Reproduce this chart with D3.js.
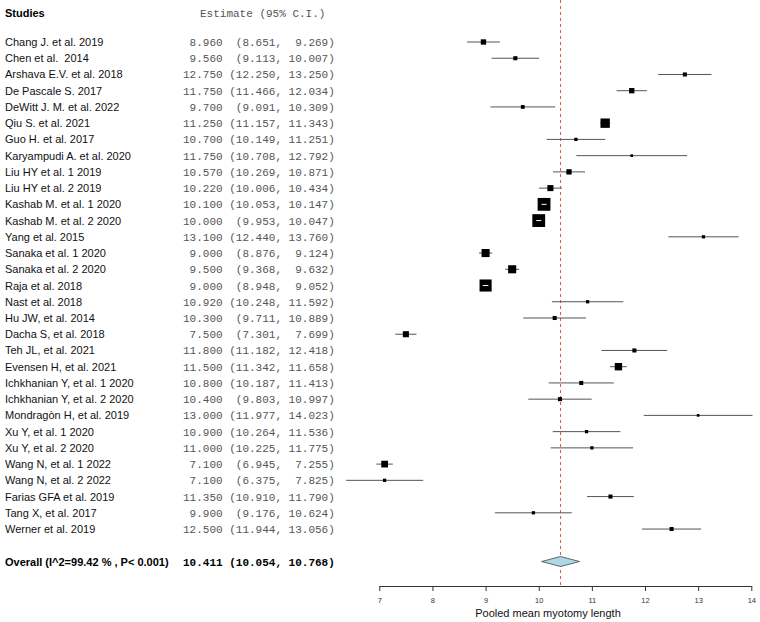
<!DOCTYPE html>
<html>
<head>
<meta charset="utf-8">
<script src="https://cdn.jsdelivr.net/npm/d3@7"></script>
<style>
  body { margin: 0; background: #fff; }
  text { white-space: pre; }
</style>
</head>
<body>
<script>
// data
let studies = [
  'Chang J. et al. 2019', 'Chen et al.  2014', 'Arshava E.V. et al. 2018', 'De Pascale S. 2017',
  'DeWitt J. M. et al. 2022', 'Qiu S. et al. 2021', 'Guo H. et al. 2017', 'Karyampudi A. et al. 2020',
  'Liu HY et al. 1 2019', 'Liu HY et al. 2 2019', 'Kashab M. et al. 1 2020', 'Kashab M. et al. 2 2020',
  'Yang et al. 2015', 'Sanaka et al. 1 2020', 'Sanaka et al. 2 2020', 'Raja et al. 2018',
  'Nast et al. 2018', 'Hu JW, et al. 2014', 'Dacha S, et al. 2018', 'Teh JL, et al. 2021',
  'Evensen H, et al. 2021', 'Ichkhanian Y, et al. 1 2020', 'Ichkhanian Y, et al. 2 2020',
  'Mondragòn H, et al. 2019', 'Xu Y, et al. 1 2020', 'Xu Y, et al. 2 2020', 'Wang N, et al. 1 2022',
  'Wang N, et al. 2 2022', 'Farias GFA et al. 2019', 'Tang X, et al. 2017', 'Werner et al. 2019'
];
let estimates = [8.960, 9.560, 12.750, 11.750, 9.700, 11.250, 10.700, 11.750, 10.570, 10.220, 10.100,
  10.000, 13.100, 9.000, 9.500, 9.000, 10.920, 10.300, 7.500, 11.800, 11.500, 10.800, 10.400, 13.000,
  10.900, 11.000, 7.100, 7.100, 11.350, 9.900, 12.500];
let lower = [8.651, 9.113, 12.250, 11.466, 9.091, 11.157, 10.149, 10.708, 10.269, 10.006, 10.053,
  9.953, 12.440, 8.876, 9.368, 8.948, 10.248, 9.711, 7.301, 11.182, 11.342, 10.187, 9.803, 11.977,
  10.264, 10.225, 6.945, 6.375, 10.910, 9.176, 11.944];
let upper = [9.269, 10.007, 13.250, 12.034, 10.309, 11.343, 11.251, 12.792, 10.871, 10.434, 10.147,
  10.047, 13.760, 9.124, 9.632, 9.052, 11.592, 10.889, 7.699, 12.418, 11.658, 11.413, 10.997, 14.023,
  11.536, 11.775, 7.255, 7.825, 11.790, 10.624, 13.056];
// relative weights (%)
let weights = [2.4, 1.4, 1.4, 2.4, 1.2, 7.4, 0.9, 0.6, 2.4, 3.1, 13.8, 13.8, 0.9, 5.5, 5.5, 12.3,
  0.9, 1.4, 3.1, 1.4, 4.6, 1.4, 1.4, 0.6, 0.9, 0.9, 3.8, 0.9, 1.4, 0.9, 1.4];
let overall = {label: 'Overall (I^2=99.42 % , P< 0.001)', est: 10.411, lo: 10.054, hi: 10.768};
let xTicks = [7, 8, 9, 10, 11, 12, 13, 14];

let width = 760;
let height = 622;

let svg = d3.select('body').append('svg')
  .attr('width', width)
  .attr('height', height);

let sans = 'Liberation Sans, Arial, sans-serif';
let mono = 'Liberation Mono, Courier New, monospace';

let x = d3.scaleLinear().domain([7, 14]).range([379.3, 751.3]);
let y = d3.scaleLinear().domain([0, 32]).range([42, 561.5]);
let box = d3.scaleSqrt().domain([0, 13.8]).range([0, 12.8]);
let axisY = 586;

let rows = studies.map(function(s, i) {
  return {label: s, est: estimates[i], lo: lower[i], hi: upper[i], w: weights[i], i: i};
});

let f3 = d3.format('.3f');
// fixed width text like R's formatC output
function ciText(d) {
  return f3(d.est).padStart(6, ' ') + ' ' +
    ('(' + f3(d.lo)).padStart(7, ' ') + ',' +
    f3(d.hi).padStart(7, ' ') + ')';
}

// headers
svg.append('text')
  .attr('x', 5).attr('y', 17)
  .attr('font-family', sans).attr('font-size', 11).attr('font-weight', 'bold')
  .text('Studies');
svg.append('text')
  .attr('x', 200).attr('y', 17)
  .attr('font-family', mono).attr('font-size', 11).attr('fill', '#555')
  .text('Estimate (95% C.I.)');

// study labels
svg.selectAll('text.study')
  .data(rows)
  .enter()
  .append('text')
  .attr('class', 'study')
  .attr('x', 5)
  .attr('y', function(d) { return y(d.i) + 4; })
  .attr('font-family', sans).attr('font-size', 11).attr('fill', '#111')
  .text(function(d) { return d.label; });

svg.selectAll('text.ci')
  .data(rows)
  .enter()
  .append('text')
  .attr('class', 'ci')
  .attr('x', 183)
  .attr('y', function(d) { return y(d.i) + 4; })
  .attr('font-family', mono).attr('font-size', 11).attr('fill', '#555')
  .text(ciText);

// overall row text
svg.append('text')
  .attr('x', 5).attr('y', y(32) + 4)
  .attr('font-family', sans).attr('font-size', 11).attr('font-weight', 'bold')
  .text(overall.label);
svg.append('text')
  .attr('x', 183).attr('y', y(32) + 4)
  .attr('font-family', mono).attr('font-size', 11).attr('font-weight', 'bold')
  .text(ciText(overall));

// reference line at pooled estimate
svg.append('line')
  .attr('x1', x(overall.est)).attr('x2', x(overall.est))
  .attr('y1', 0).attr('y2', axisY)
  .attr('stroke', '#d9534f').attr('stroke-width', 1)
  .attr('stroke-dasharray', '3,3');

// CI lines
svg.selectAll('line.ci')
  .data(rows)
  .enter()
  .append('line')
  .attr('class', 'ci')
  .attr('x1', function(d) { return x(d.lo); })
  .attr('x2', function(d) { return x(d.hi); })
  .attr('y1', function(d) { return y(d.i); })
  .attr('y2', function(d) { return y(d.i); })
  .attr('stroke', '#555').attr('stroke-width', 1);

// boxes
svg.selectAll('rect.box')
  .data(rows)
  .enter()
  .append('rect')
  .attr('class', 'box')
  .attr('x', function(d) { return x(d.est) - box(d.w) / 2; })
  .attr('y', function(d) { return y(d.i) - box(d.w) / 2; })
  .attr('width', function(d) { return box(d.w); })
  .attr('height', function(d) { return box(d.w); })
  .attr('fill', '#000');

// white CI inside boxes that are wider than the interval
svg.selectAll('line.inner')
  .data(rows.filter(function(d) { return x(d.hi) - x(d.lo) < box(d.w) - 2; }))
  .enter()
  .append('line')
  .attr('class', 'inner')
  .attr('x1', function(d) { return x(d.lo); })
  .attr('x2', function(d) { return x(d.hi); })
  .attr('y1', function(d) { return y(d.i); })
  .attr('y2', function(d) { return y(d.i); })
  .attr('stroke', '#fff').attr('stroke-width', 1);

// pooled diamond
let yo = y(32);
svg.append('path')
  .attr('d', 'M' + x(overall.lo) + ',' + yo +
    'L' + x(overall.est) + ',' + (yo - 5) +
    'L' + x(overall.hi) + ',' + yo +
    'L' + x(overall.est) + ',' + (yo + 5) + 'Z')
  .attr('fill', '#add8e6').attr('stroke', '#444').attr('stroke-width', 0.8);

// axis
let axis = svg.append('g')
  .attr('transform', 'translate(0,' + axisY + ')')
  .call(d3.axisBottom(x).tickValues(xTicks).tickFormat(d3.format('d'))
    .tickSize(5).tickSizeOuter(0).tickPadding(7));
axis.select('.domain').attr('stroke', '#333');
axis.selectAll('.tick line').attr('stroke', '#333');
axis.selectAll('.tick text')
  .attr('font-family', sans).attr('font-size', 7.5).attr('fill', '#333');

svg.append('text')
  .attr('x', 548).attr('y', 617)
  .attr('text-anchor', 'middle')
  .attr('font-family', sans).attr('font-size', 11).attr('fill', '#111')
  .text('Pooled mean myotomy length');
</script>
</body>
</html>
